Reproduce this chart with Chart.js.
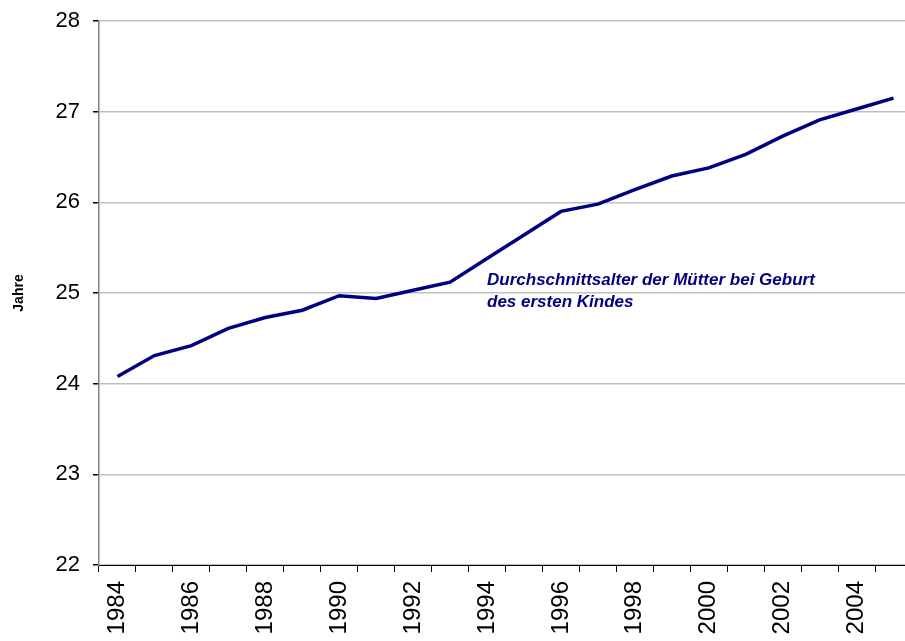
<!DOCTYPE html>
<html>
<head>
<meta charset="utf-8">
<script src="https://cdn.jsdelivr.net/npm/chart.js@4.4.1/dist/chart.umd.min.js"></script>
<style>
  html, body { margin: 0; padding: 0; background: #fff; overflow: hidden; }
  #wrap { width: 905px; height: 641px; overflow: hidden; }
  canvas { display: block; }
</style>
</head>
<body>
<div id="wrap"><canvas id="myChart" width="912" height="641"></canvas></div>
<script>

const years = ["1984","1985","1986","1987","1988","1989","1990","1991","1992","1993","1994",
  "1995","1996","1997","1998","1999","2000","2001","2002","2003","2004","2005"];

const alterMuetter = [24.08, 24.31, 24.42, 24.61, 24.73, 24.81, 24.97, 24.94, 25.03, 25.12, 25.38,
  25.64, 25.90, 25.98, 26.14, 26.29, 26.38, 26.53, 26.73, 26.91, 27.03, 27.15];

const yTicks = [22, 23, 24, 25, 26, 27, 28];

const annoLines = ["Durchschnittsalter der Mütter bei Geburt", "des ersten Kindes"];

const fontFam = "'Liberation Sans', Arial, sans-serif";

// Beschriftung im Diagramm
const annoPlugin = {
  id: 'anno',
  afterDatasetsDraw(chart){
    const ctx = chart.ctx
    const x = chart.scales.x.getPixelForValue(10)
    const y = chart.scales.y.getPixelForValue(25.09)
    ctx.save()
    ctx.fillStyle = '#000080'
    ctx.font = 'italic bold 17px ' + fontFam
    ctx.textBaseline = 'alphabetic'
    annoLines.forEach((t, i)=>{
      ctx.fillText(t, x, y + i*22)
    })
    ctx.restore()
  }
}

const data = {
  labels: years,
  datasets: [
    {
      label: "Durchschnittsalter",
      borderColor: "#000080",
      backgroundColor: "#000080",
      borderWidth: 3.5,
      pointRadius: 0,
      tension: 0,
      data: alterMuetter,
    },
  ],
};

const config = {
  type: "line",
  data: data,
  plugins: [annoPlugin],
  options: {
    responsive: false,
    animation: false,
    layout: { padding: { top: 21, left: 0, right: 0, bottom: 0 } },
    plugins: {
      legend: { display: false },
      tooltip: { enabled: false },
    },
    scales: {
      x: {
        offset: true,
        afterFit(scale){
          scale.height = 76
          scale.paddingLeft = 0
          scale.paddingRight = 0
        },
        grid: {
          offset: true,
          drawOnChartArea: false,
          drawTicks: true,
          tickLength: 7,
          color: '#000',
        },
        border: { color: '#000', width: 1 },
        ticks: {
          autoSkip: false,
          maxRotation: 90,
          minRotation: 90,
          padding: 9,
          color: '#000',
          font: { family: fontFam, size: 24 },
          callback(val, i){ return i % 2 === 0 ? years[i] : '' },
        },
      },
      y: {
        min: yTicks[0],
        max: yTicks[yTicks.length-1],
        afterFit(scale){
          scale.width = 99
          scale.paddingTop = 0
          scale.paddingBottom = 0
        },
        afterBuildTicks(scale){ scale.ticks = yTicks.map(v=>({value: v})) },
        grid: {
          color: '#c0c0c0',
          lineWidth: 1.5,
          tickLength: 6,
          tickColor: '#000',
        },
        border: { color: '#808080', width: 1.5 },
        ticks: {
          padding: 13,
          color: '#000',
          font: { family: fontFam, size: 22 },
        },
        title: {
          display: true,
          text: 'Jahre',
          color: '#000',
          font: { family: fontFam, size: 14, weight: 'bold' },
          padding: { top: 11, bottom: 0 },
        },
      },
    },
  },
};

const myChart = new Chart(document.getElementById("myChart"), config);

</script>
</body>
</html>
